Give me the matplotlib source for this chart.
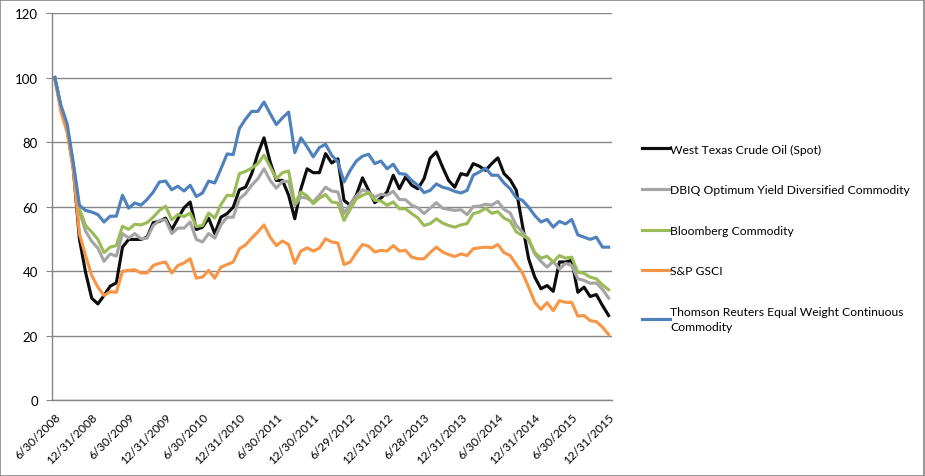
import matplotlib.pyplot as plt
import numpy as np
from matplotlib.patches import Rectangle

# monthly index levels, 6/30/2008 = 100
wti = [100, 90.5, 84, 72, 50, 39.6, 31.6, 29.8, 32.4, 35.3, 36.3, 47.4, 49.8, 49.8, 49.8, 50.5,
       55.0, 55.4, 56.4, 52.8, 56.2, 59.6, 61.4, 52.9, 53.6, 56.4, 51.6, 56.7, 57.8, 59.8,
       65.2, 66.0, 70.2, 76.4, 81.3, 73.8, 68.1, 68.1, 63.5, 56.2, 65.5, 71.7, 70.5, 70.5, 76.4,
       73.5, 74.8, 61.9, 60.4, 63.5, 68.9, 65.0, 61.2, 62.6, 64.5, 69.7, 65.5, 69.2, 66.6, 65.5,
       68.6, 75.0, 76.9, 72.3, 68.1, 66.0, 70.2, 69.7, 73.3, 72.5, 71.2, 73.3, 75.1, 70.2, 68.3,
       65.0, 54.1, 43.8, 38.1, 34.5, 35.5, 33.7, 42.8, 42.8, 43.3, 33.4, 35.0, 32.1, 32.7, 29.3, 26.2]
dbiq = [100, 90.5, 84, 73, 58.5, 52.4, 49.2, 47.1, 43.0, 45.3, 44.6, 51.6, 50.2, 51.6, 50.0, 50.2,
        54.1, 55.7, 55.9, 51.6, 53.3, 53.3, 55.2, 49.8, 49.0, 51.6, 50.2, 54.3, 56.7, 56.7,
        62.4, 64.0, 66.6, 68.6, 71.7, 68.1, 65.7, 67.8, 67.8, 60.4, 62.9, 62.6, 61.4, 63.5, 66.0,
        64.8, 64.5, 57.8, 60.6, 63.2, 65.2, 64.5, 62.9, 63.8, 63.5, 64.7, 62.2, 62.1, 60.4, 59.6,
        57.8, 59.5, 61.2, 59.5, 59.1, 58.8, 59.0, 57.5, 60.0, 60.1, 60.7, 60.4, 61.6, 59.1, 58.0,
        54.1, 52.1, 49.5, 45.3, 43.0, 41.2, 43.0, 40.6, 42.4, 41.7, 37.6, 37.1, 36.2, 36.3, 34.3, 31.6]
bcom = [100, 90.5, 84, 73, 59.3, 54.1, 52.1, 49.8, 45.7, 47.4, 47.9, 53.9, 52.9, 54.5, 54.3, 55.0,
        56.7, 58.8, 60.1, 55.9, 57.5, 56.9, 58.0, 53.8, 54.1, 58.0, 56.4, 60.6, 63.5, 63.3,
        70.2, 70.9, 71.9, 73.3, 75.9, 72.3, 68.6, 70.5, 71.0, 60.9, 64.5, 63.3, 60.9, 62.6, 63.7,
        61.4, 61.1, 55.7, 59.1, 62.4, 63.5, 64.2, 61.9, 61.7, 60.4, 61.4, 59.3, 59.3, 57.8, 56.5,
        54.1, 54.7, 56.2, 54.9, 54.1, 53.6, 54.3, 54.7, 57.8, 58.3, 59.5, 57.9, 58.4, 56.4, 55.5,
        52.1, 51.0, 50.0, 45.7, 44.0, 44.6, 42.8, 44.8, 44.0, 44.3, 39.6, 39.3, 38.1, 37.6, 35.7, 34.2]
gsci = [100, 89.3, 83.1, 71.7, 51.6, 44.8, 38.6, 35.0, 32.4, 33.6, 33.4, 39.9, 40.2, 40.4, 39.4, 39.4,
        41.7, 42.4, 42.8, 39.4, 41.7, 42.5, 43.8, 37.8, 38.1, 40.2, 37.8, 41.2, 42.0, 42.8,
        46.9, 48.1, 50.2, 52.1, 54.3, 50.5, 47.9, 49.3, 48.2, 42.4, 46.2, 47.2, 46.2, 47.1, 50.0,
        49.0, 48.7, 42.0, 42.8, 45.7, 48.2, 47.7, 45.9, 46.4, 46.2, 47.9, 46.2, 46.4, 44.3, 43.8,
        43.8, 45.7, 47.4, 45.9, 45.1, 44.5, 45.3, 44.8, 46.9, 47.2, 47.4, 47.2, 48.2, 45.7, 44.8,
        42.0, 39.4, 35.0, 30.3, 28.1, 30.2, 27.7, 30.8, 30.3, 30.3, 26.0, 26.2, 24.6, 24.3, 22.6, 20.3]
tr_ew = [100, 91.4, 85.7, 73.8, 60.4, 58.8, 58.3, 57.5, 55.2, 57.0, 57.0, 63.5, 59.5, 61.1, 60.4, 62.2,
         64.5, 67.6, 67.9, 65.2, 66.3, 64.8, 66.6, 63.1, 64.2, 67.9, 67.3, 71.7, 76.3, 76.1,
         84.2, 87.1, 89.5, 89.5, 92.4, 88.8, 85.4, 87.5, 89.3, 76.7, 81.3, 78.5, 75.4, 78.3, 79.3,
         75.9, 73.8, 67.6, 71.2, 74.1, 75.6, 76.2, 73.3, 74.1, 71.7, 73.1, 70.2, 70.0, 68.1, 66.6,
         64.3, 65.0, 67.0, 66.0, 65.5, 64.7, 64.2, 65.0, 69.7, 70.7, 71.9, 69.7, 69.7, 67.3, 65.5,
         62.7, 61.9, 59.8, 57.2, 55.2, 56.0, 53.6, 55.4, 54.6, 56.0, 51.2, 50.5, 49.8, 50.5, 47.4, 47.4]

tick_labels = ["6/30/2008", "12/31/2008", "6/30/2009", "12/31/2009", "6/30/2010", "12/31/2010",
               "6/30/2011", "12/30/2011", "6/29/2012", "12/31/2012", "6/28/2013", "12/31/2013",
               "6/30/2014", "12/31/2014", "6/30/2015", "12/31/2015"]

series = [
    ("West Texas Crude Oil (Spot)", wti, "#0d0d0d"),
    ("DBIQ Optimum Yield Diversified Commodity", dbiq, "#a5a5a5"),
    ("Bloomberg Commodity", bcom, "#9bbb59"),
    ("S&P GSCI", gsci, "#f79646"),
    ("Thomson Reuters Equal Weight Continuous\nCommodity", tr_ew, "#4f81bd"),
]

plt.rcParams["font.family"] = ["Lato", "DejaVu Sans"]

fig = plt.figure(figsize=(9.25, 4.77), dpi=100)
fig.patches.append(Rectangle((0.0005, 0.001), 0.998, 0.997, transform=fig.transFigure,
                             fill=False, edgecolor="#868686", linewidth=1.2))
ax = fig.add_axes([0.0559, 0.1593, 0.6054, 0.8113])

x = np.arange(len(wti))
for name, vals, color in series:
    ax.plot(x, vals, color=color, linewidth=2.25, label=name, solid_joinstyle="round")

ax.set_xlim(-0.5, len(wti) - 0.5)
ax.set_ylim(0, 120)
ax.set_yticks(np.arange(0, 121, 20))
ax.set_xticks(x[::6])
ax.set_xticklabels(tick_labels, rotation=45, ha="right", va="top", rotation_mode="anchor")
ax.tick_params(axis="y", length=4, color="#868686", labelsize=9.5, pad=6)
ax.tick_params(axis="x", length=0, labelsize=8.6, pad=8)
ax.grid(axis="y", color="#868686", linewidth=1)
ax.set_axisbelow(True)
for side in ["top", "right"]:
    ax.spines[side].set_visible(False)
for side in ["left", "bottom"]:
    ax.spines[side].set_color("#868686")
    ax.spines[side].set_linewidth(1)

leg = ax.legend(loc="upper left", bbox_to_anchor=(1.045, 0.675), frameon=False, fontsize=8.7,
                handlelength=2.3, handletextpad=0.05, labelspacing=2.45, borderaxespad=0)
for t in leg.get_texts():
    t.set_linespacing(1.45)

fig.savefig("out.png", dpi=100)
